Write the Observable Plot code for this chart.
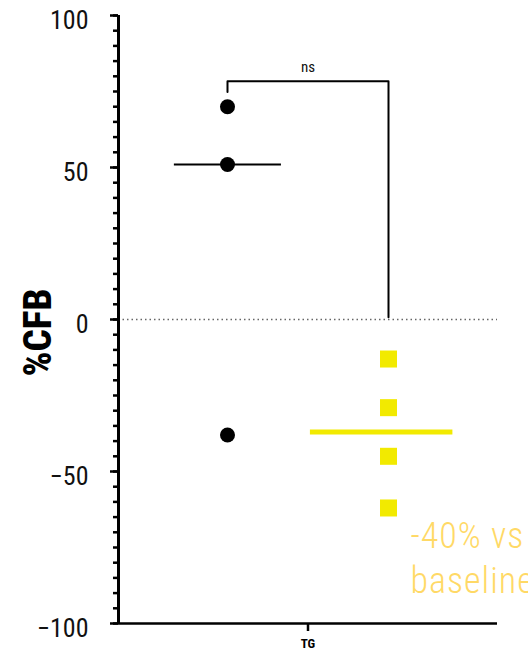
<!DOCTYPE html>
<html>
<head>
<meta charset="utf-8">
<script src="https://cdn.jsdelivr.net/npm/d3@7"></script>
<script src="https://cdn.jsdelivr.net/npm/@observablehq/plot@0.6"></script>
<style>
  body { margin: 0; background: #fff; overflow: hidden; }
  .note text { letter-spacing: 1px; }
</style>
</head>
<body>
<div id="chart"></div>
<script>
// Percent change from baseline (%CFB) for two groups
const blackValues = [70, 51, -38];
const yellowValues = [-13, -29, -45, -62];
const groupPositions = [0, 1];
const yMajorTicks = [-100, -50, 0, 50, 100];
const yMinorTicks = d3.range(-100, 101, 5);
const xTickLabels = ["TG"];
const xTickPositions = [0.5];
const yLabel = "%CFB";
const bracketLabel = "ns";
const bracketPath = [[0, 74.8], [0, 78.4], [1, 78.4], [1, 0.7]];
const noteText = "-40% vs\nbaseline";

const CONDENSED = "'Roboto Condensed', 'DejaVu Sans Condensed', 'Liberation Sans Narrow', Roboto, sans-serif";
const xDomain = [-0.677, 1.677];

const black = blackValues.map(v => ({g: groupPositions[0], v}));
const yellow = yellowValues.map(v => ({g: groupPositions[1], v}));
const blackMid = d3.median(blackValues);
const yellowMid = d3.median(yellowValues);

const chart = Plot.plot({
  width: 528,
  height: 650,
  marginLeft: 118,
  marginRight: 31,
  marginTop: 15,
  marginBottom: 27,
  style: {fontFamily: CONDENSED, background: "#fff", overflow: "visible"},
  x: {domain: xDomain, axis: null},
  y: {domain: [-100, 100], axis: null},
  marks: [
    // zero reference
    Plot.ruleY([0], {stroke: "#666", strokeWidth: 1.5, strokeDasharray: "1.5,3"}),
    // y axis: minor ticks, major ticks, labels, line
    Plot.axisY({ticks: yMinorTicks, tickSize: 5, strokeWidth: 2.5, tickFormat: () => "", label: null}),
    Plot.axisY({ticks: yMajorTicks, tickSize: 8, strokeWidth: 2.5, tickFormat: () => "", label: null}),
    Plot.axisY({ticks: yMajorTicks, tickSize: 0, tickPadding: 30, dy: 5, fontSize: 26, fill: "#111", label: null}),
    Plot.ruleX([xDomain[0]], {y1: -100, y2: 100, strokeWidth: 3, stroke: "#000"}),
    // x axis
    Plot.ruleY([-100], {strokeWidth: 2.5, stroke: "#000"}),
    Plot.axisX({ticks: xTickPositions, tickSize: 8, strokeWidth: 2.5, tickPadding: 7,
      tickFormat: (d, i) => xTickLabels[i], fontSize: 13, fontWeight: "bold", label: null}),
    // y label
    Plot.text([yLabel], {frameAnchor: "left", textAnchor: "middle", rotate: -90, dx: -80, dy: 13,
      fontSize: 39, fontWeight: 800, fill: "#000"}),
    // significance bracket
    Plot.line(bracketPath, {x: d => d[0], y: d => d[1], stroke: "#000", strokeWidth: 2}),
    Plot.text([bracketLabel], {x: 0.5, y: 83, fontSize: 15, fill: "#111"}),
    // medians
    Plot.ruleY([blackMid], {x1: -0.33, x2: 0.335, stroke: "#000", strokeWidth: 2}),
    Plot.ruleY([yellowMid], {x1: 0.515, x2: 1.4, stroke: "#f2ea00", strokeWidth: 5}),
    // points
    Plot.dot(black, {x: "g", y: "v", r: 7.5, fill: "#000", stroke: "none"}),
    Plot.dot(yellow, {x: "g", y: "v", symbol: "square", r: 9.6, fill: "#f2ea00", stroke: "none"}),
    // annotation
    Plot.text([noteText], {x: 1.137, y: -77.9, textAnchor: "start", lineAnchor: "middle", className: "note",
      lineHeight: 1.25, fontSize: 36, fontWeight: 300, fill: "#ffd966"})
  ]
});

document.getElementById("chart").append(chart);
</script>
</body>
</html>
